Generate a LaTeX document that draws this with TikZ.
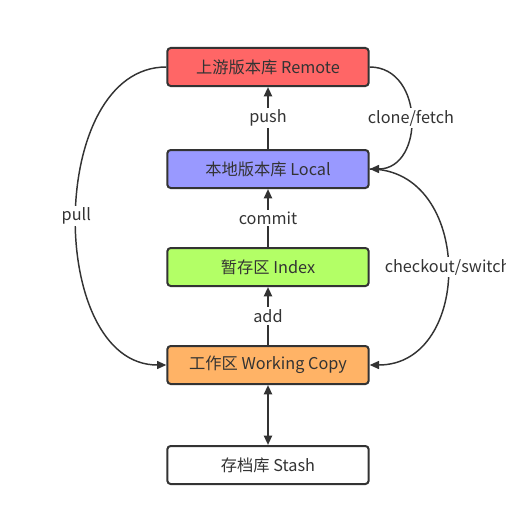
\documentclass[tikz,border=0pt]{standalone}
\usepackage{fontspec}
\setmainfont{Noto Sans CJK SC}
\usetikzlibrary{positioning, arrows.meta}
\definecolor{ink}{HTML}{333333}
\definecolor{remotered}{HTML}{FF6666}
\definecolor{localblue}{HTML}{9999FF}
\definecolor{indexgreen}{HTML}{B3FF66}
\definecolor{workorange}{HTML}{FFB366}

\begin{document}
\begin{tikzpicture}[x=0.75pt, y=-0.75pt,
                    font=\fontsize{12.2}{14}\selectfont, text=ink,
                    area/.style={draw=ink, line width=1.5pt, rounded corners=2.5pt,
                                 minimum width=151pt, minimum height=28.5pt, inner sep=0pt},
                    flow/.style={->, >={Triangle[length=7pt,width=6pt]}, draw=ink, line width=1.5pt},
                    curvy/.style={->, >={Triangle[length=7pt,width=6pt]}, draw=ink, line width=1.1pt},
                    tag/.style={fill=white, inner sep=1.5pt}]
                    \useasboundingbox (0,0) rectangle (506,517);
                    \node[area, fill=remotered] (remote) at (268,67) {上游版本库 Remote};
                    \node[area, fill=localblue] (local) at (268,169) {本地版本库 Local};
                    \node[area, fill=indexgreen] (index) at (268,267) {暂存区 Index};
                    \node[area, fill=workorange] (work) at (268,365) {工作区 Working Copy};
                    \node[area, fill=white] (stash) at (268,465) {存档库 Stash};
                    % straight arrows up the stack
                    \draw[flow] (local) -- node[tag]{push} (remote);
                    \draw[flow] (index) -- node[tag]{commit} (local);
                    \draw[flow] (work) -- node[tag]{add} (index);
                    \draw[flow, <->] (work) -- (stash);
                    % curved arrows
                    \draw[curvy] (remote.west) .. controls +(-120,0) and +(-120,0) .. node[tag]{pull} (work.west);
                    \draw[curvy] (remote.east) .. controls +(55,0) and +(55,0) .. node[tag]{clone/fetch} (local.east);
                    \draw[curvy] (local.east) .. controls +(104,0) and +(104,0) .. node[tag]{checkout/switch} (work.east);
\end{tikzpicture}
\end{document}
